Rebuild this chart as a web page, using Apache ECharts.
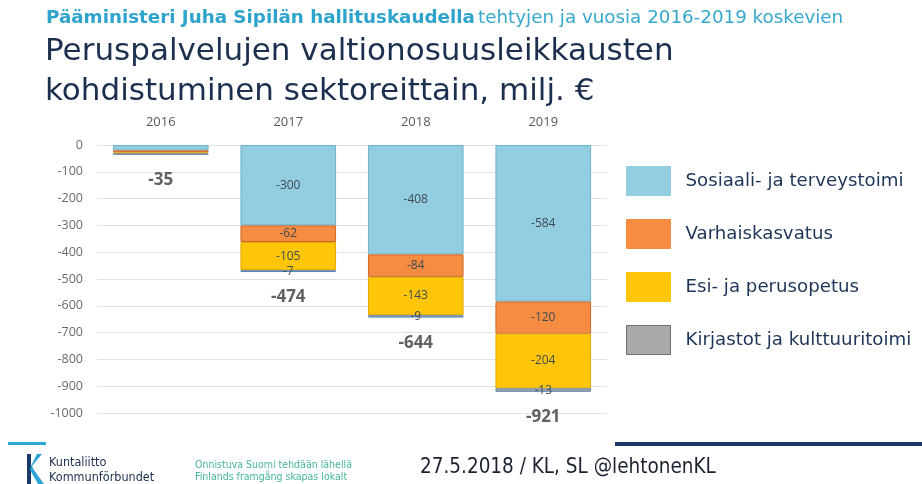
<!DOCTYPE html>
<html>
<head>
<meta charset="utf-8">
<script src="https://cdn.jsdelivr.net/npm/echarts@6/dist/echarts.min.js"></script>
<style>
html,body{margin:0;padding:0;background:#fff;}
#chart{width:922px;height:484px;}
</style>
</head>
<body>
<div id="chart"></div>
<script>
// Vuosittaiset valtionosuusleikkaukset sektoreittain, milj. €
const years = ['2016', '2017', '2018', '2019'];
const sote = [-20, -300, -408, -584];
const varhaiskasvatus = [-8, -62, -84, -120];
const perusopetus = [-5, -105, -143, -204];
const kirjastot = [-2, -7, -9, -13];
const totals = [-35, -474, -644, -921];
const seriesNames = ['Sosiaali- ja terveystoimi', 'Varhaiskasvatus', 'Esi- ja perusopetus', 'Kirjastot ja kulttuuritoimi'];

const chart = echarts.init(document.getElementById('chart'));

const fillColors = ['#93cde0', '#f58c42', '#ffc607', '#a9a9a9'];
const edgeColors = ['#6fb0cf', '#c76a2a', '#e3a800', '#5f86b0'];
const valueSets = [sote, varhaiskasvatus, perusopetus, kirjastot];

const barSeries = valueSets.map((vals, i) => ({
  name: seriesNames[i],
  type: 'bar',
  stack: 'total',
  barWidth: '75%',
  data: vals,
  itemStyle: { color: fillColors[i], borderColor: edgeColors[i], borderWidth: 1 },
  label: {
    show: true,
    position: 'inside',
    color: '#404a55',
    fontFamily: 'Open Sans',
    fontSize: 12,
    // the 2016 column is too thin for segment labels
    formatter: p => (p.dataIndex === 0 ? '' : String(p.value))
  }
}));

chart.setOption({
  animation: false,
  backgroundColor: '#ffffff',
  grid: { left: 97, top: 145, width: 510, height: 268 },
  legend: {
    orient: 'vertical',
    left: 621,
    top: 161,
    itemWidth: 44,
    itemHeight: 29,
    itemGap: 23,
    icon: 'rect',
    data: seriesNames.map((n, i) => ({ name: n, itemStyle: { borderColor: i === 3 ? '#707070' : fillColors[i], borderWidth: 1 } })),
    textStyle: { fontFamily: 'DejaVu Sans', fontSize: 18.2, color: '#1e3558', padding: [0, 0, 0, 10] }
  },
  xAxis: {
    type: 'category',
    position: 'top',
    data: years,
    axisLine: { show: false },
    axisTick: { show: false },
    axisLabel: { color: '#595959', fontFamily: 'Open Sans', fontSize: 13, margin: 16 }
  },
  yAxis: {
    type: 'value',
    min: -1000,
    max: 0,
    interval: 100,
    axisLine: { show: false },
    axisTick: { show: false },
    axisLabel: { color: '#6a6a6a', fontFamily: 'Open Sans', fontSize: 12.5, margin: 14, formatter: v => String(v) },
    splitLine: { lineStyle: { color: '#e2e2e2', width: 1 } }
  },
  series: barSeries.concat([{
    name: 'Yhteensä',
    type: 'scatter',
    data: totals,
    symbolSize: 0,
    silent: true,
    label: {
      show: true,
      position: 'bottom',
      distance: 17,
      color: '#3a3a3a',
      fontFamily: 'Open Sans',
      fontWeight: 'bold',
      fontSize: 17
    }
  }]),
  graphic: [
    {
      type: 'text', left: 46, top: 9,
      style: {
        text: '{b|Pääministeri Juha Sipilän hallituskaudella} {n|tehtyjen ja vuosia 2016-2019 koskevien}',
        rich: {
          b: { fontFamily: 'DejaVu Sans', fontWeight: 'bold', fontSize: 18.3, fill: '#2ea3cc' },
          n: { fontFamily: 'DejaVu Sans', fontSize: 18.3, fill: '#35a8cc' }
        }
      }
    },
    {
      type: 'text', left: 45, top: 32,
      style: {
        text: 'Peruspalvelujen valtionosuusleikkausten\nkohdistuminen sektoreittain, milj. €',
        fontFamily: 'DejaVu Sans', fontSize: 31, lineHeight: 40, fill: '#1c2f4f'
      }
    },
    { type: 'rect', shape: { x: 8, y: 442, width: 38, height: 3 }, style: { fill: '#2ba6d6' } },
    { type: 'rect', shape: { x: 615, y: 442, width: 307, height: 4 }, style: { fill: '#1b3a6a' } },
    {
      type: 'polygon',
      shape: { points: [[27, 454], [31, 454], [31, 484], [27, 484]] },
      style: { fill: '#1b3a6a' }
    },
    {
      type: 'polygon',
      shape: { points: [[42, 454], [32, 466], [34, 470], [44, 484], [38, 484], [30, 470], [31, 466], [37, 454]] },
      style: { fill: '#2ba6d6' }
    },
    {
      type: 'text', left: 49, top: 455,
      style: { text: 'Kuntaliitto\nKommunförbundet', fontFamily: 'DejaVu Sans Condensed', fontSize: 12.5, lineHeight: 15, fill: '#1c2f4f' }
    },
    {
      type: 'text', left: 195, top: 459,
      style: { text: 'Onnistuva Suomi tehdään lähellä\nFinlands framgång skapas lokalt', fontFamily: 'DejaVu Sans Condensed', fontSize: 10.5, lineHeight: 12, fill: '#45b59a' }
    },
    {
      type: 'text', left: 420, top: 457,
      style: { text: '27.5.2018 / KL, SL @lehtonenKL', fontFamily: 'DejaVu Sans Condensed', fontSize: 20.5, fill: '#1c2230' }
    }
  ]
});
</script>
</body>
</html>
